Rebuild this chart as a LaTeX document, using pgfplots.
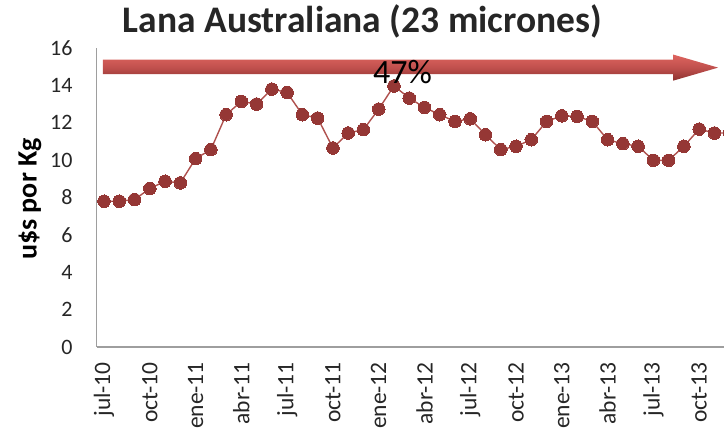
\documentclass[border=0pt]{standalone}
\usepackage{pgfplots}
\pgfplotsset{compat=1.18}
\usepackage{fontspec}
\setmainfont{Carlito}
\definecolor{mk}{RGB}{149,55,53}
\definecolor{ln}{RGB}{175,80,77}
\definecolor{arrtop}{RGB}{222,100,95}
\definecolor{arrmid}{RGB}{192,80,77}
\definecolor{arrbot}{RGB}{140,50,48}
\definecolor{txt}{RGB}{38,38,38}
\begin{document}
\begin{tikzpicture}[x=1pt,y=1pt]
\path[use as bounding box, clip] (0,0) rectangle (724,431);
\begin{axis}[
  at={(96.7pt,84pt)}, anchor=south west, scale only axis,
  width=640.6pt, height=299pt,
  xmin=-0.48, xmax=41.5, ymin=0, ymax=16,
  axis lines*=left,
  axis line style={draw=black!38, line width=1.2pt, -},
  ytick={0,2,...,16},
  xtick={0,3,...,39},
  xticklabels={jul-10,oct-10,ene-11,abr-11,jul-11,oct-11,ene-12,abr-12,jul-12,oct-12,ene-13,abr-13,jul-13,oct-13},
  major tick length=0pt,
  tick label style={color=txt, inner sep=0pt},
  xticklabel style={rotate=90, anchor=east, font=\fontsize{23.5}{25}\selectfont},
  yticklabel style={anchor=east, font=\fontsize{22}{24}\selectfont},
  xticklabel shift=15pt,
  yticklabel shift=24pt,
  /pgf/number format/assume math mode=true,
  clip=false,
]
\shade[top color=arrtop, bottom color=arrbot, middle color=arrmid]
  (axis cs:-0.07,15.38) -- (axis cs:37.29,15.38) -- (axis cs:37.29,15.65)
  -- (axis cs:40.24,14.95) -- (axis cs:37.29,14.25) -- (axis cs:37.29,14.6)
  -- (axis cs:-0.07,14.6) -- cycle;
\addplot[color=ln, line width=1.4pt, mark=*, mark size=6.3pt,
  mark options={fill=mk, draw=mk, line width=0pt}] coordinates {
(0,7.80) (1,7.80) (2,7.89) (3,8.48) (4,8.87) (5,8.78) (6,10.08) (7,10.56)
(8,12.43) (9,13.14) (10,13.00) (11,13.80) (12,13.62) (13,12.43) (14,12.25)
(15,10.65) (16,11.45) (17,11.63) (18,12.73) (19,13.97) (20,13.32) (21,12.82)
(22,12.43) (23,12.07) (24,12.21) (25,11.36) (26,10.56) (27,10.74) (28,11.09)
(29,12.07) (30,12.37) (31,12.34) (32,12.07) (33,11.09) (34,10.88) (35,10.74)
(36,9.99) (37,9.99) (38,10.74) (39,11.66) (40,11.45) (41,11.45)
};
\end{axis}
\node[anchor=base, font=\bfseries\fontsize{37.5}{40}\selectfont, text=txt] at (362.5,398) {Lana Australiana (23 micrones)};
\node[anchor=base, font=\fontsize{34}{36}\selectfont, text=black] at (402.5,347) {47\%};
\node[rotate=90, font=\bfseries\fontsize{28}{30}\selectfont, text=black] at (30,232) {u\$s por Kg};
\end{tikzpicture}
\end{document}
